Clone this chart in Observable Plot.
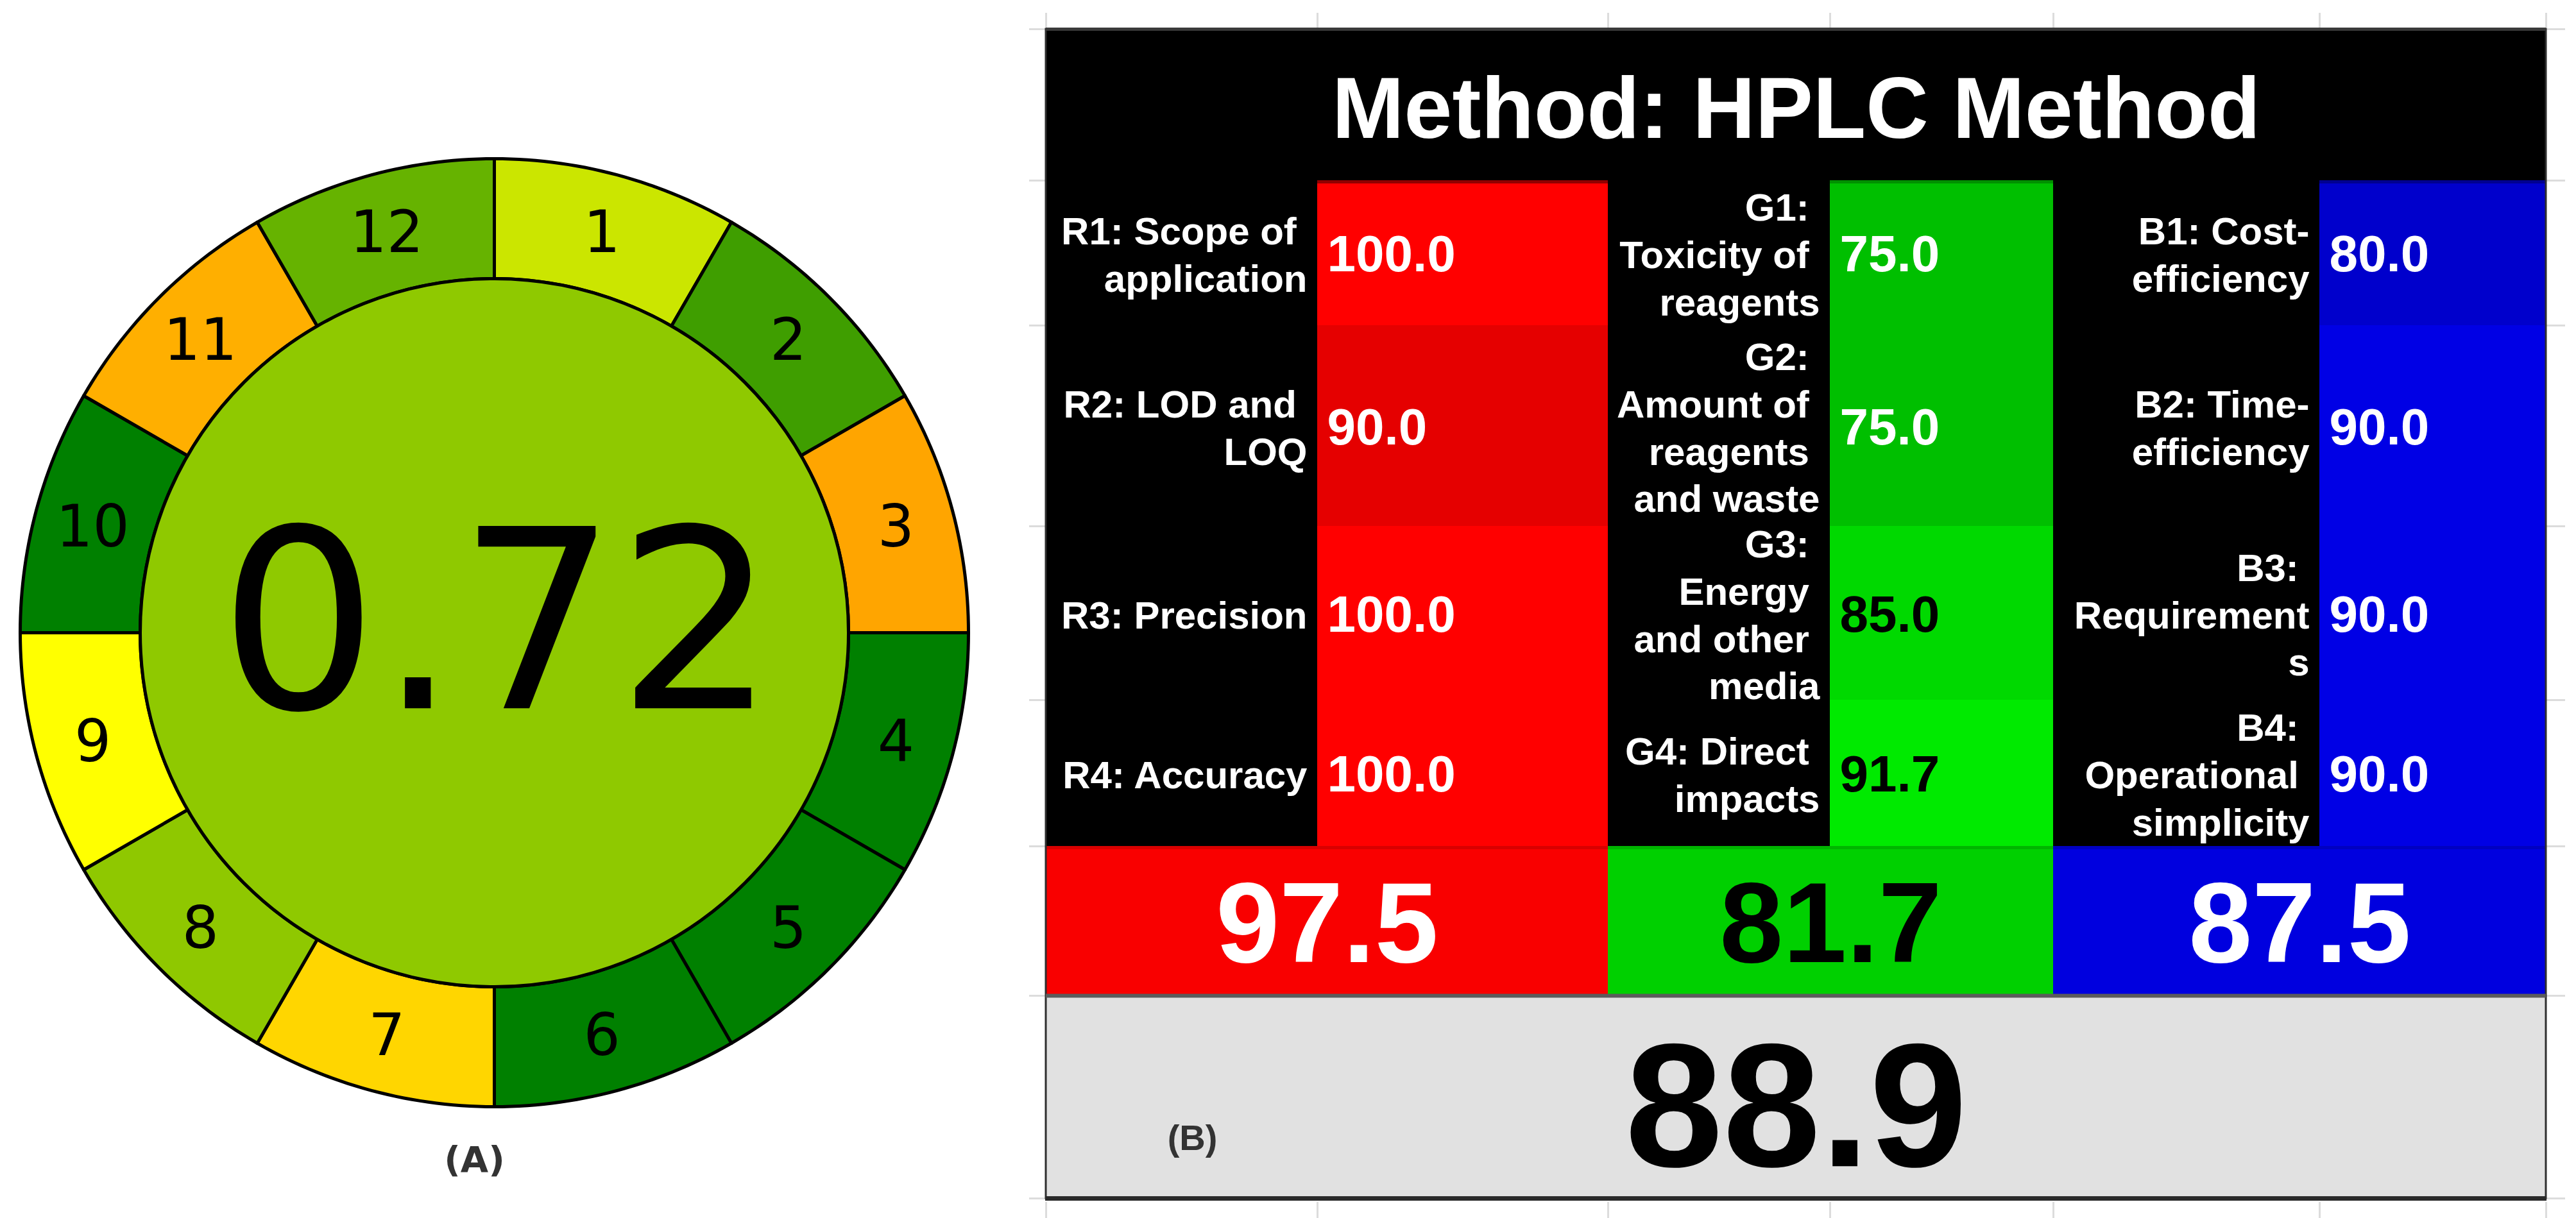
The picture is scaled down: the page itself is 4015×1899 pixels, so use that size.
<!DOCTYPE html>
<html>
<head>
<meta charset="utf-8">
<script src="https://cdn.jsdelivr.net/npm/d3@7"></script>
<script src="https://cdn.jsdelivr.net/npm/@observablehq/plot@0.6"></script>
<style>
  html, body { margin: 0; padding: 0; background: #ffffff; }
  #chart svg { display: block; }
</style>
</head>
<body>
<div id="chart"></div>
<script>
// ---------------- DATA ----------------
// (A) AGREE pictogram
const agreePrinciples = ["1", "2", "3", "4", "5", "6", "7", "8", "9", "10", "11", "12"];
const agreeColors = ["#cbe600", "#3f9e00", "#ffa500", "#008000", "#008000", "#008000",
                     "#ffd600", "#8fc800", "#ffff00", "#008000", "#ffaf00", "#66b300"];
const agreeScore = 0.72;
const agreeScoreColor = "#8fc900";

// (B) RGB 12 model (lines wrapped as in the original cells; wrapped-at-space lines keep their trailing space)
const methodName = "HPLC Method";
const redCriteria = ["R1: Scope of\u00A0\napplication", "R2: LOD and\u00A0\nLOQ", "R3: Precision", "R4: Accuracy"];
const redValues = [100.0, 90.0, 100.0, 100.0];
const greenCriteria = ["G1:\u00A0\nToxicity of\u00A0\nreagents", "G2:\u00A0\nAmount of\u00A0\nreagents\u00A0\nand waste",
                       "G3:\u00A0\nEnergy\u00A0\nand other\u00A0\nmedia", "G4: Direct\u00A0\nimpacts"];
const greenValues = [75.0, 75.0, 85.0, 91.7];
const blueCriteria = ["B1: Cost-\nefficiency", "B2: Time-\nefficiency", "B3:\u00A0\nRequirement\ns", "B4:\u00A0\nOperational\u00A0\nsimplicity"];
const blueValues = [80.0, 90.0, 90.0, 90.0];
const colorNames = ["red", "green", "blue"];
const colorScores = [97.5, 81.7, 87.5];
const whitenessScore = 88.9;
const panelLabels = ["(A)", "(B)"];

// ---------------- LAYOUT ----------------
const W = 4015, H = 1899;
const A = {cx: 770, cy: 986, rOuter: 739, rInner: 552, rLabel: 648, labelY: 1809, labelX: 739};
const B = {
  left: 1630, right: 3968, top: 45, headerBottom: 281,
  rows: [281, 507, 820, 1091, 1319],
  scoreBottom: 1552, bottom: 1868,
  cols: [[1630, 2053, 2506], [2506, 2852, 3200], [3200, 3615, 3968]],
  labelX: 1858, labelY: 1775
};
const boldFont = "Liberation Sans, Arial, Helvetica, sans-serif";
const agreeFont = "DejaVu Sans, Verdana, sans-serif";

// ---------------- DERIVED TABLES ----------------
function polar(deg, r) {
  const t = deg * Math.PI / 180;
  return [A.cx + r * Math.sin(t), A.cy - r * Math.cos(t)];
}
const step = 360 / agreePrinciples.length;
const ringData = agreePrinciples.flatMap((p, i) => {
  const a0 = i * step, a1 = a0 + step, n = 30;
  const outer = d3.range(n + 1).map(k => polar(a0 + (a1 - a0) * k / n, A.rOuter));
  const inner = d3.range(n, -1, -1).map(k => polar(a0 + (a1 - a0) * k / n, A.rInner));
  const pts = [...outer, ...inner, outer[0]];
  return pts.map(([x, y]) => ({principle: p, color: agreeColors[i], x, y}));
});
const ringLabels = agreePrinciples.map((p, i) => {
  const [x, y] = polar(i * step + step / 2, A.rLabel);
  return {text: p, x, y: y + 4};
});

function shade(g, v) {
  const c = Math.round(v * 2.55);
  return g === 0 ? d3.rgb(c, 0, 0).formatHex() : g === 1 ? d3.rgb(0, c, 0).formatHex() : d3.rgb(0, 0, c).formatHex();
}
function textOn(fill) {
  return d3.lab(fill).l > 70 ? "#000000" : "#ffffff";
}
const groups = [
  {criteria: redCriteria, values: redValues},
  {criteria: greenCriteria, values: greenValues},
  {criteria: blueCriteria, values: blueValues}
];
const cells = groups.flatMap((g, gi) => g.values.map((v, ri) => {
  const fill = shade(gi, v);
  return {
    group: colorNames[gi], label: g.criteria[ri], value: v, fill, textFill: textOn(fill),
    x0: B.cols[gi][0], x1: B.cols[gi][1], x2: B.cols[gi][2],
    y1: B.rows[ri], y2: B.rows[ri + 1], yc: (B.rows[ri] + B.rows[ri + 1]) / 2
  };
}));
const scoreCells = colorScores.map((s, gi) => {
  const fill = shade(gi, s);
  return {group: colorNames[gi], value: s, fill, textFill: textOn(fill),
          x1: B.cols[gi][0], x2: B.cols[gi][2], y1: B.rows[4], y2: B.scoreBottom};
});
const colEdges = [B.left, ...B.cols.flatMap(c => [c[1], c[2]])];
const rowEdges = [B.top, ...B.rows, B.scoreBottom, B.bottom];

// ---------------- PLOT ----------------
const chart = Plot.plot({
  width: W, height: H,
  margin: 0,
  x: {type: "linear", domain: [0, W], range: [0, W], axis: null},
  y: {type: "linear", domain: [0, H], range: [0, H], axis: null},
  color: {type: "identity"},
  style: {background: "#ffffff"},
  marks: [
    // spreadsheet grid remnants around panel B
    Plot.ruleX(colEdges, {x: d => d, y1: 20, y2: 43, stroke: "#dcdcdc", strokeWidth: 3}),
    Plot.ruleX(colEdges, {x: d => d, y1: 1874, y2: 1899, stroke: "#dcdcdc", strokeWidth: 3}),
    Plot.ruleY(rowEdges, {y: d => d, x1: 1604, x2: 1630, stroke: "#dcdcdc", strokeWidth: 3}),
    Plot.ruleY(rowEdges, {y: d => d, x1: 3968, x2: 3998, stroke: "#dcdcdc", strokeWidth: 3}),

    // ----- (A) AGREE ring -----
    Plot.line(ringData, {x: "x", y: "y", z: "principle", fill: "color", stroke: "#000000",
                         strokeWidth: 5, strokeLinejoin: "round"}),
    Plot.dot([agreeScore], {x: () => A.cx, y: () => A.cy, r: A.rInner, fill: agreeScoreColor,
                            stroke: "#000000", strokeWidth: 5}),
    Plot.text(ringLabels, {x: "x", y: "y", text: "text", fontSize: 90, fontFamily: agreeFont, fill: "#000000"}),
    Plot.text([agreeScore], {x: () => A.cx + 5, y: () => 979, text: d => d.toFixed(2),
                             fontSize: 390, fontFamily: agreeFont, fill: "#000000"}),
    Plot.text([panelLabels[0]], {x: () => A.labelX, y: () => A.labelY, text: d => d,
                                 fontSize: 56, fontWeight: "bold", fontFamily: agreeFont, fill: "#333333"}),

    // ----- (B) RGB 12 table -----
    Plot.rect([methodName], {x1: () => B.left, x2: () => B.right, y1: () => B.top, y2: () => B.rows[4], fill: "#000000"}),
    Plot.rect(cells, {x1: "x1", x2: "x2", y1: "y1", y2: "y2", fill: "fill"}),
    Plot.ruleY(colorNames, {y: () => B.headerBottom + 2, x1: (d, i) => B.cols[i][1], x2: (d, i) => B.cols[i][2],
                            stroke: (d, i) => d3.rgb(shade(i, 100)).darker(1.6).formatHex(), strokeWidth: 5}),
    Plot.rect(scoreCells, {x1: "x1", x2: "x2", y1: "y1", y2: "y2", fill: "fill"}),
    Plot.ruleY(scoreCells, {y: () => B.rows[4] + 2, x1: "x1", x2: "x2",
                            stroke: d => d3.rgb(d.fill).darker(0.4).formatHex(), strokeWidth: 5}),
    Plot.rect([whitenessScore], {x1: () => B.left, x2: () => B.right, y1: () => B.scoreBottom, y2: () => B.bottom, fill: "#e1e1e1"}),
    // borders
    Plot.rect([whitenessScore], {x1: () => B.left, x2: () => B.right, y1: () => B.top, y2: () => B.bottom,
                                 fill: "none", stroke: "#2e2e2e", strokeWidth: 3}),
    Plot.ruleY([B.top], {y: d => d, x1: B.left, x2: B.right, stroke: "#3a3a3a", strokeWidth: 5}),
    Plot.ruleY([B.scoreBottom], {y: d => d, x1: B.left, x2: B.right, stroke: "#5c5c5c", strokeWidth: 6}),
    Plot.ruleY([B.bottom], {y: d => d, x1: B.left - 1, x2: B.right + 1, stroke: "#2a2a2a", strokeWidth: 7}),

    // title
    Plot.text([methodName], {x: () => (B.left + B.right) / 2, y: () => 171, text: d => `Method: ${d}`,
                             fontSize: 135, fontWeight: "bold", fontFamily: boldFont, fill: "#ffffff"}),
    // criteria labels
    Plot.text(cells, {x: d => d.x1 - 16, y: "yc", text: "label", textAnchor: "end", lineHeight: 1.23,
                      fontSize: 60, fontWeight: "bold", fontFamily: boldFont, fill: "#ffffff"}),
    // criteria values
    Plot.text(cells, {x: d => d.x1 + 15, y: d => d.yc + 3, text: d => d.value.toFixed(1), textAnchor: "start",
                      fontSize: 80, fontWeight: "bold", fontFamily: boldFont, fill: "textFill"}),
    // colour scores
    Plot.text(scoreCells, {x: d => (d.x1 + d.x2) / 2, y: () => 1443, text: d => d.value.toFixed(1),
                           fontSize: 178, fontWeight: "bold", fontFamily: boldFont, fill: "textFill"}),
    // overall whiteness
    Plot.text([whitenessScore], {x: () => (B.left + B.right) / 2, y: () => 1730, text: d => d.toFixed(1),
                                 fontSize: 274, fontWeight: "bold", fontFamily: boldFont, fill: "#000000"}),
    Plot.text([panelLabels[1]], {x: () => B.labelX, y: () => B.labelY, text: d => d,
                                 fontSize: 56, fontWeight: "bold", fontFamily: boldFont, fill: "#333333"})
  ]
});
document.getElementById("chart").appendChild(chart);
</script>
</body>
</html>
